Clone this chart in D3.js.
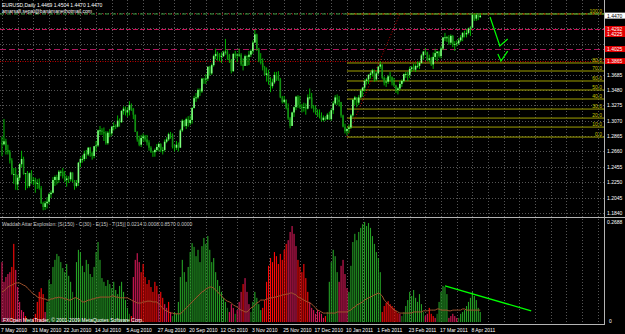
<!DOCTYPE html>
<html>
<head>
<meta charset="utf-8">
<script src="https://d3js.org/d3.v7.min.js"></script>
<style>
body{margin:0;background:#000;}
svg{display:block;}
text{font-family:"Liberation Sans", Arial, sans-serif;font-size:5px;}
</style>
</head>
<body>
<script>
//daily EURUSD bars, prices in pips (1/10000), open of each bar = previous close
var firstOpen = 12775;
var closes = [
12755,12795,12680,12650,12540,12360,12360,12220,12310,12490,
12560,12360,12370,12200,12370,12270,12280,12230,12240,12170,
11970,11920,11970,11990,12090,12110,12280,12320,12280,12390,
12390,12330,12280,12300,12290,12380,12280,12200,12240,12510,
12560,12560,12630,12620,12710,12640,12600,12730,12740,12940,
12940,12920,12900,12770,12910,12900,12990,13000,12990,13070,
13050,13200,13230,13180,13210,13280,13230,13150,12920,12820,
12750,12840,12860,12820,12780,12710,12660,12650,12680,12720,
12760,12680,12680,12790,12820,12890,12880,12720,12710,12750,
12710,12940,13070,13000,13090,13040,13080,13240,13370,13380,
13480,13460,13630,13620,13630,13790,13700,13810,13930,13960,
13950,13920,13930,13980,13990,13950,13880,13730,13960,13940,
13950,13950,13820,13800,13930,13920,13950,14000,14110,14220,
14030,13870,13840,13780,13680,13700,13600,13530,13580,13680,
13670,13620,13380,13320,13350,13240,13100,13000,13180,13250,
13390,13280,13250,13240,13250,13230,13380,13380,13240,13230,
13180,13140,13120,13080,13110,13090,13150,13090,13210,13300,
13380,13350,13320,13140,12990,12930,12960,12980,13140,13350,
13380,13310,13380,13470,13510,13600,13620,13680,13700,13740,
13620,13700,13790,13820,13640,13580,13590,13660,13650,13580,
13540,13480,13500,13560,13600,13690,13690,13680,13760,13780,
13750,13800,13800,13840,13940,13990,13980,13880,13900,13820,
13920,13970,13990,13930,14030,14180,14180,14180,14110,14200,
14090,14090,14100,14140,14180,14240,14220,14240,14300,14310,
14480,14430,14480,14450,14470];
var highs = [
12860,13093,12830,12750,12680,12570,12440,12440,12350,12500,
12670,12590,12370,12400,12380,12410,12320,12310,12290,12300,
12200,11990,12000,12050,12110,12140,12320,12340,12350,12410,
12410,12440,12400,12340,12330,12390,12380,12280,12280,12520,
12580,12610,12670,12680,12720,12720,12660,12730,12800,12950,
13000,12970,12980,12930,12930,12960,13000,13050,13020,13140,
13100,13210,13260,13260,13250,13330,13300,13240,13150,12930,
12870,12880,12900,12880,12880,12810,12730,12670,12700,12760,
12780,12770,12720,12820,12850,12910,12920,12900,12750,12800,
12780,12960,13090,13080,13110,13130,13140,13250,13400,13440,
13500,13500,13640,13640,13690,13790,13800,13830,13950,14030,
13990,13970,13980,14000,14160,14020,13960,13890,13970,14000,
13970,14030,13970,13900,13950,13940,14000,14020,14140,14282,
14230,14040,13970,13900,13800,13780,13750,13650,13630,13720,
13720,13730,13640,13400,13400,13350,13300,13120,13190,13260,
13400,13410,13400,13290,13310,13300,13420,13500,13440,13280,
13270,13220,13220,13180,13140,13130,13170,13190,13230,13330,
13410,13420,13400,13320,13150,13030,12970,13020,13160,13360,
13400,13380,13410,13490,13520,13620,13640,13690,13720,13760,
13750,13720,13800,13860,13820,13660,13640,13680,13720,13660,
13640,13550,13520,13600,13620,13700,13720,13720,13790,13800,
13830,13820,13860,13860,13960,14000,14040,13990,13950,13920,
13980,14030,14000,14000,14060,14180,14240,14200,14210,14220,
14210,14130,14140,14170,14210,14250,14270,14290,14310,14330,
14490,14500,14500,14470,14504];
var lows = [
12600,12740,12620,12620,12500,12350,12230,12150,12145,12270,
12450,12350,12145,12170,12180,12230,12210,12110,12160,12150,
11960,11876,11880,11900,11960,12040,12100,12200,12220,12240,
12330,12300,12250,12190,12240,12260,12250,12150,12180,12200,
12450,12510,12530,12560,12600,12590,12550,12570,12660,12720,
12880,12880,12800,12750,12750,12850,12870,12940,12960,12980,
12990,13040,13150,13140,13120,13140,13200,13090,12920,12790,
12730,12720,12790,12790,12740,12670,12640,12588,12590,12660,
12660,12650,12620,12660,12770,12800,12830,12700,12660,12680,
12660,12710,12920,12990,12960,12990,13010,13030,13230,13320,
13360,13400,13440,13560,13560,13600,13670,13680,13790,13890,
13870,13860,13840,13920,13950,13880,13840,13700,13720,13900,
13850,13920,13800,13740,13800,13800,13810,13920,13960,14110,
14000,13850,13820,13740,13670,13590,13550,13450,13500,13560,
13600,13600,13370,13300,13300,13220,13080,12969,13000,13120,
13210,13240,13230,13180,13190,13150,13220,13350,13230,13180,
13150,13120,13100,13060,13060,13070,13080,13080,13070,13160,
13280,13280,13260,13110,12980,12900,12873,12900,12960,13120,
13280,13250,13280,13370,13390,13460,13550,13560,13630,13660,
13590,13600,13680,13760,13620,13540,13520,13560,13600,13540,
13520,13440,13420,13480,13520,13580,13640,13600,13640,13720,
13740,13720,13770,13760,13830,13890,13950,13860,13850,13800,
13760,13880,13860,13910,13900,14010,14130,14120,14080,14080,
14050,14000,14060,14080,14120,14130,14180,14180,14220,14200,
14300,14400,14400,14410,14440];

//time axis labels, one every 16 bars
var timeLabels = ["7 May 2010","31 May 2010","22 Jun 2010","14 Jul 2010","5 Aug 2010","27 Aug 2010",
    "20 Sep 2010","12 Oct 2010","3 Nov 2010","25 Nov 2010","17 Dec 2010","10 Jan 2011",
    "1 Feb 2011","23 Feb 2011","17 Mar 2011","8 Apr 2011"];
var labelStep = 16;
var gridStep = 8;

//price axis ticks
var priceTicks = [1.4505,1.4300,1.4095,1.3890,1.3685,1.3480,1.3275,1.3070,1.2865,1.2660,1.2455,1.2250,1.2045,1.1840];
var lastPrice = 1.4470;

//Waddah Attar Explosion, values in thousandths
var waeValues = [
161,108,121,129,134,148,210,140,94,54,
32,27,16,8,5,0,11,22,54,81,
91,75,27,54,113,102,148,167,183,177,
161,145,134,156,124,108,81,65,161,194,
188,151,134,167,156,129,121,148,188,215,
167,118,108,97,113,102,91,108,86,75,
97,108,81,59,38,22,16,121,167,185,
161,134,156,121,102,113,94,81,108,97,
75,81,65,48,38,54,27,16,27,22,
54,121,167,134,108,148,188,212,202,177,
194,161,204,226,210,231,194,161,172,134,
113,97,81,65,54,38,27,48,38,22,
32,54,81,102,118,81,48,27,54,81,
65,48,32,38,59,108,151,172,161,188,
177,156,183,167,194,210,220,242,258,237,
204,167,148,134,156,118,81,54,38,32,
22,32,27,22,11,16,27,108,161,194,
177,134,108,151,167,129,91,81,151,215,
237,220,242,253,263,269,258,266,253,231,
210,188,172,134,27,43,51,56,48,43,
38,30,24,22,16,27,43,59,81,70,
86,65,54,75,48,27,16,22,38,22,
16,11,22,54,81,97,94,75,11,16,
22,16,11,11,22,27,32,43,54,65,
81,70,59,38,27];
//G up, g up weakening, R down, P down weakening
var waeTrend = ("PPPPPRRPPP" + "PPRgg-RRRR" + "RRPGGGGGGG" + "GGGGGGggGG" + "GGGGGGGGGG" +
    "GGGGGGGGGG" + "GGGGGgRPPP" + "PRRRRRRRRR" + "PRRPPRPgGG" + "GGGGGGGGGG" +
    "GGGGGGGGGG" + "GGGGGgPPPg" + "PPPRPPPgGG" + "GGGRRRRRRR" + "RRRRRRPPPP" +
    "PRRRRRRPPP" + "PPPPPRgGGG" + "GGPPPPPGGG" + "GGGGGGGGGG" + "GGGGRRRRRR" +
    "RRRPggGGGG" + "GGGGGgPPRR" + "RPgGGGGGPP" + "PPPgGGGGGG" + "GGGGG").split("");
var waeExplosion = [
81,83,89,94,97,99,102,105,105,105,102,99,97,91,86,
81,75,73,67,65,65,62,62,59,
59,62,62,65,65,67,65,65,62,62,59,59,62,65,65,62,59,
54,54,56,59,59,62,62,65,65,67,67,67,67,
67,67,70,70,67,67,65,65,65,65,65,
62,59,56,54,51,51,51,54,54,56,56,56,54,54,54,
48,43,38,32,30,27,24,24,22,22,22,22,
27,32,38,43,48,54,59,65,70,75,81,83,89,91,94,
94,91,86,81,75,70,65,59,56,54,
51,46,43,40,35,32,30,27,27,
32,38,40,46,51,54,59,
59,59,62,62,65,65,67,67,70,70,73,73,75,75,78,
78,75,73,67,65,62,59,56,54,51,48,
43,38,32,30,27,24,24,24,24,24,
24,24,27,27,27,27,27,27,30,32,38,
40,46,48,51,54,59,62,65,67,70,73,75,78,
75,70,59,54,48,43,38,32,30,27,24,24,
24,24,24,24,24,27,27,27,27,27,30,30,30,32,
32,32,32,35,35,32,32,32,32,30,30,32,32,32,32,32,35,35,32,32,32,32,32,32,32,32];
var waeMax = 0.2688;

//fibonacci object drawn from the January low
var fibStartBar = 176;
var fibPrices = [1.2852,1.2985,1.3105,1.3225,1.3359,1.3479,1.3599,1.3732,1.3839,1.4492];
var fibLabels = ["0.0","10.0","20.0","30.0","40.0","50.0","60.0","70.0","80.0","100.0"];
var fibDiagonal = [[176,1.2852],[203,1.4492]];

//horizontal line objects
var hLinePrices = [1.4292,1.4025,1.3865];
var hLineColors = ["#c8145a","#a8185c","#c00000"];
var hLineDash = ["5,2","6,3","1,1.5"];
var redLabelPrices = [1.4292,1.4225,1.4025,1.3865];

//hand drawn lines
var zigzag1 = [[249,1.4452],[254,1.4065],[258,1.4158]];
var zigzag2 = [[253,1.3958],[254.6,1.3865],[258,1.3998]];
var waeTrendLine = [[226,0.097],[270,0.030]];

var waeColors = {G:"#25a025", g:"#167216", R:"#ff0a0a", P:"#d81858"};

var width = 625, height = 334,
    plotRight = 604,
    mainBottom = 217,
    indTop = 218,
    indBottom = 324;

var svg = d3.select("body")
    .append("svg")
    .attr("width", width)
    .attr("height", height)
    .style("background", "#000");

var xScale = d3.scaleLinear()
    .domain([0, 244])
    .range([2, 480.24]);

var yScale = d3.scaleLinear()
    .domain([priceTicks[0], priceTicks[priceTicks.length - 1]])
    .range([13, 213]);

var wScale = d3.scaleLinear()
    .domain([0, waeMax])
    .range([322, 222]);

//clip regions for the two panes
var defs = svg.append("defs");
defs.append("clipPath").attr("id", "mainClip")
    .append("rect").attr("x", 0).attr("y", 0).attr("width", plotRight).attr("height", mainBottom);
defs.append("clipPath").attr("id", "indClip")
    .append("rect").attr("x", 0).attr("y", indTop).attr("width", plotRight).attr("height", indBottom - indTop);

//grid
var gridG = svg.append("g");
var gridBars = d3.range(0, 400, gridStep).filter(function(b){ return xScale(b) < plotRight; });
gridG.selectAll(".vgrid")
    .data(gridBars)
    .enter()
    .append("line")
    .attr("x1", function(d){ return Math.round(xScale(d)) + 0.5; })
    .attr("x2", function(d){ return Math.round(xScale(d)) + 0.5; })
    .attr("y1", 0)
    .attr("y2", indBottom)
    .attr("stroke", "#6a6a6a")
    .attr("stroke-width", 0.8)
    .attr("stroke-dasharray", "1,2");
gridG.selectAll(".hgrid")
    .data(priceTicks)
    .enter()
    .append("line")
    .attr("x1", 0)
    .attr("x2", plotRight)
    .attr("y1", function(d){ return Math.round(yScale(d)) + 0.5; })
    .attr("y2", function(d){ return Math.round(yScale(d)) + 0.5; })
    .attr("stroke", "#6a6a6a")
    .attr("stroke-width", 0.8)
    .attr("stroke-dasharray", "1,2");

var mainG = svg.append("g").attr("clip-path", "url(#mainClip)");

//fibonacci levels
mainG.selectAll(".fib")
    .data(fibPrices)
    .enter()
    .append("line")
    .attr("x1", xScale(fibStartBar))
    .attr("x2", plotRight)
    .attr("y1", function(d){ return yScale(d); })
    .attr("y2", function(d){ return yScale(d); })
    .attr("stroke", "#a0a000")
    .attr("stroke-width", 1);
mainG.append("path")
    .datum(fibDiagonal)
    .attr("d", d3.line().x(function(d){ return xScale(d[0]); }).y(function(d){ return yScale(d[1]); }))
    .attr("stroke", "#c00000")
    .attr("stroke-width", 1)
    .attr("stroke-dasharray", "1,2")
    .attr("fill", "none");

//full width line at the top level (dash dot)
mainG.append("line")
    .attr("x1", 0).attr("x2", plotRight)
    .attr("y1", yScale(fibPrices[fibPrices.length - 1]))
    .attr("y2", yScale(fibPrices[fibPrices.length - 1]))
    .attr("stroke", "#3d9a3d")
    .attr("stroke-width", 1)
    .attr("stroke-dasharray", "4,3");
mainG.append("line")
    .attr("x1", 0).attr("x2", plotRight)
    .attr("y1", yScale(fibPrices[fibPrices.length - 1]))
    .attr("y2", yScale(fibPrices[fibPrices.length - 1]))
    .attr("stroke", "#c01010")
    .attr("stroke-width", 1)
    .attr("stroke-dasharray", "1,6")
    .attr("stroke-dashoffset", -5);

//horizontal line objects
mainG.selectAll(".hline")
    .data(hLinePrices)
    .enter()
    .append("line")
    .attr("x1", 0).attr("x2", plotRight)
    .attr("y1", function(d){ return Math.round(yScale(d)) + 0.5; })
    .attr("y2", function(d){ return Math.round(yScale(d)) + 0.5; })
    .attr("stroke", function(d, i){ return hLineColors[i]; })
    .attr("stroke-width", 1)
    .attr("stroke-dasharray", function(d, i){ return hLineDash[i]; });

//candles
var bars = closes.map(function(c, i){
    var o = i == 0 ? firstOpen : closes[i - 1];
    return {
        i: i,
        o: o / 10000,
        c: c / 10000,
        h: Math.max(highs[i], o, c) / 10000,
        l: Math.min(lows[i], o, c) / 10000
    };
});
mainG.selectAll(".wick")
    .data(bars)
    .enter()
    .append("line")
    .attr("x1", function(d){ return xScale(d.i); })
    .attr("x2", function(d){ return xScale(d.i); })
    .attr("y1", function(d){ return yScale(d.h); })
    .attr("y2", function(d){ return yScale(d.l); })
    .attr("stroke", "#00c800")
    .attr("stroke-width", 0.9);
mainG.selectAll(".body")
    .data(bars)
    .enter()
    .append("rect")
    .attr("x", function(d){ return xScale(d.i) - 0.8; })
    .attr("width", 1.6)
    .attr("y", function(d){ return yScale(Math.max(d.o, d.c)); })
    .attr("height", function(d){ return Math.max(0.8, Math.abs(yScale(d.o) - yScale(d.c))); })
    .attr("fill", function(d){ return d.c >= d.o ? "#7dff7d" : "#138f13"; });

//hand drawn zigzag
[zigzag1, zigzag2].forEach(function(pts){
    mainG.append("path")
        .datum(pts)
        .attr("d", d3.line().x(function(d){ return xScale(d[0]); }).y(function(d){ return yScale(d[1]); }))
        .attr("stroke", "#00ff00")
        .attr("stroke-width", 1.2)
        .attr("fill", "none");
});

//fibonacci labels
svg.selectAll(".fibLabel")
    .data(fibPrices)
    .enter()
    .append("text")
    .attr("x", plotRight - 2)
    .attr("y", function(d){ return yScale(d) - 1; })
    .attr("text-anchor", "end")
    .attr("fill", "#c8c800")
    .text(function(d, i){ return fibLabels[i]; });

//indicator pane
var indG = svg.append("g").attr("clip-path", "url(#indClip)");
indG.selectAll(".wae")
    .data(waeValues)
    .enter()
    .append("rect")
    .attr("x", function(d, i){ return xScale(i) - 0.55; })
    .attr("width", 1.1)
    .attr("y", function(d){ return wScale(d / 1000); })
    .attr("height", function(d){ return wScale(0) - wScale(d / 1000); })
    .attr("fill", function(d, i){ return waeColors[waeTrend[i]] || "none"; });
indG.append("path")
    .datum(waeExplosion)
    .attr("d", d3.line().x(function(d, i){ return xScale(i); }).y(function(d){ return wScale(d / 1000); }))
    .attr("stroke", "#a0522d")
    .attr("stroke-width", 1)
    .attr("fill", "none");
indG.append("path")
    .datum(waeTrendLine)
    .attr("d", d3.line().x(function(d){ return xScale(d[0]); }).y(function(d){ return wScale(d[1]); }))
    .attr("stroke", "#00ff00")
    .attr("stroke-width", 1.4)
    .attr("fill", "none");

//pane borders
svg.append("line").attr("x1", 0).attr("x2", width).attr("y1", mainBottom + 0.5).attr("y2", mainBottom + 0.5)
    .attr("stroke", "#b4b4b4").attr("stroke-width", 1);
svg.append("line").attr("x1", 0).attr("x2", plotRight).attr("y1", indBottom + 0.5).attr("y2", indBottom + 0.5)
    .attr("stroke", "#b4b4b4").attr("stroke-width", 1);
svg.append("line").attr("x1", plotRight + 0.5).attr("x2", plotRight + 0.5).attr("y1", 0).attr("y2", indBottom + 1)
    .attr("stroke", "#b4b4b4").attr("stroke-width", 1);

//price axis labels, the ones hidden under the object labels are left out
var boxPrices = redLabelPrices.concat([lastPrice]);
var visibleTicks = priceTicks.filter(function(t){
    return boxPrices.every(function(b){ return Math.abs(yScale(t) - yScale(b)) >= 6; });
});
svg.selectAll(".ptick")
    .data(visibleTicks)
    .enter()
    .append("text")
    .attr("x", plotRight + 3)
    .attr("y", function(d){ return yScale(d) + 2; })
    .attr("fill", "#ffffff")
    .text(function(d){ return d.toFixed(4); });

//red labels of the line objects
var redG = svg.selectAll(".redLabel")
    .data(redLabelPrices)
    .enter()
    .append("g");
redG.append("rect")
    .attr("x", plotRight + 1)
    .attr("y", function(d){ return yScale(d) - 3; })
    .attr("width", 20)
    .attr("height", 6)
    .attr("fill", "#e00000");
redG.append("text")
    .attr("x", plotRight + 3)
    .attr("y", function(d){ return yScale(d) + 2; })
    .attr("fill", "#ffffff")
    .text(function(d){ return d.toFixed(4); });

//last price label
svg.append("rect")
    .attr("x", plotRight + 1)
    .attr("y", yScale(lastPrice) - 3)
    .attr("width", 20)
    .attr("height", 6)
    .attr("fill", "#ffffff");
svg.append("text")
    .attr("x", plotRight + 3)
    .attr("y", yScale(lastPrice) + 2)
    .attr("fill", "#000000")
    .text(lastPrice.toFixed(4));

//indicator axis labels
svg.append("text").attr("x", plotRight + 3).attr("y", wScale(waeMax) + 2).attr("fill", "#ffffff").text(waeMax.toFixed(4));
svg.append("text").attr("x", plotRight + 5).attr("y", wScale(0) + 1).attr("fill", "#ffffff").text("0");

//time axis labels
svg.selectAll(".tlabel")
    .data(timeLabels)
    .enter()
    .append("text")
    .attr("x", function(d, i){ return xScale(i * labelStep) - 1; })
    .attr("y", 331.5)
    .attr("fill", "#ffffff")
    .text(function(d){ return d; });

//titles
svg.append("text").attr("x", 2).attr("y", 6.5).attr("fill", "#ffffff")
    .text("EURUSD,Daily  1.4469 1.4504 1.4470 1.4470");
svg.append("text").attr("x", 2).attr("y", 12.5).attr("fill", "#ffffff")
    .text("amarsafi.sepat@banamanethotmail.com");
svg.append("text").attr("x", 2).attr("y", 226).attr("fill", "#c8c8c8")
    .text("Waddah Attar Explosion: [S(150) - C(30) - E(15) - T(15)]  0.0214 0.0008 0.8570 0.0000");
svg.append("text").attr("x", 3).attr("y", 322).attr("fill", "#ffffff")
    .text("FXOpen MetaTrader, \u00a9 2001-2009 MetaQuotes Software Corp.");
</script>
</body>
</html>
